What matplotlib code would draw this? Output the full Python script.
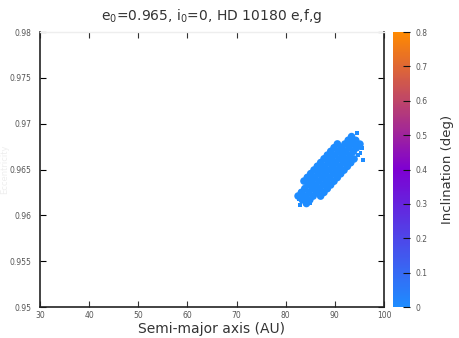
import numpy as np
import matplotlib
matplotlib.use('Agg')
import matplotlib.pyplot as plt
from matplotlib.colors import LinearSegmentedColormap

# --- Data: final semi-major axis / eccentricity of the test particles ---
a_core = [82.52, 83.37, 84.22,
          83.20, 84.05, 84.90,
          83.88, 84.73, 85.58,
          83.72, 84.56, 85.41, 86.26, 87.10,
          84.40, 85.24, 86.09, 86.94, 87.78,
          85.08, 85.92, 86.77, 87.62, 88.46,
          85.76, 86.60, 87.45, 88.30, 89.14,
          86.44, 87.28, 88.13, 88.98, 89.82,
          87.12, 87.96, 88.81, 89.66, 90.50,
          87.80, 88.64, 89.49, 90.34, 91.18,
          88.48, 89.32, 90.17, 91.02, 91.86,
          89.16, 90.00, 90.85, 91.70, 92.54,
          89.84, 90.68, 91.53, 92.38, 93.22,
          90.52, 91.36, 92.21, 93.06, 93.90,
          92.04, 92.89, 93.74,
          92.72, 93.57, 94.42,
          93.40, 94.25, 95.10]
e_core = [0.96211, 0.96170, 0.96129,
          0.96251, 0.96210, 0.96169,
          0.96292, 0.96251, 0.96210,
          0.96374, 0.96333, 0.96292, 0.96251, 0.96210,
          0.96414, 0.96373, 0.96332, 0.96291, 0.96250,
          0.96455, 0.96414, 0.96373, 0.96332, 0.96291,
          0.96495, 0.96454, 0.96413, 0.96372, 0.96331,
          0.96536, 0.96495, 0.96454, 0.96413, 0.96372,
          0.96576, 0.96535, 0.96494, 0.96453, 0.96412,
          0.96617, 0.96576, 0.96535, 0.96494, 0.96453,
          0.96657, 0.96616, 0.96575, 0.96534, 0.96493,
          0.96698, 0.96657, 0.96616, 0.96575, 0.96534,
          0.96738, 0.96697, 0.96656, 0.96615, 0.96574,
          0.96779, 0.96738, 0.96697, 0.96656, 0.96615,
          0.96778, 0.96737, 0.96696,
          0.96819, 0.96778, 0.96737,
          0.96859, 0.96818, 0.96777]
i_core = [0.0] * len(a_core)

# sparse particles around the edge of the cloud
a_edge = [94.51, 95.53, 95.73, 94.71, 82.91, 93.49, 83.93, 94.10, 93.29, 95.12, 84.95, 95.30, 82.60]
e_edge = [0.96898, 0.96735, 0.96604, 0.96658, 0.96113, 0.96822, 0.96200, 0.96767, 0.96844, 0.96789, 0.96134, 0.96680, 0.96175]
i_edge = [0.0] * len(a_edge)

x_ticks = [30, 40, 50, 60, 70, 80, 90, 100]
y_ticks = [0.95, 0.955, 0.96, 0.965, 0.97, 0.975, 0.98]
y_labels = ['0.95', '0.955', '0.96', '0.965', '0.97', '0.975', '0.98']
cb_ticks = [0, 0.1, 0.2, 0.3, 0.4, 0.5, 0.6, 0.7, 0.8]
cb_labels = ['0', '0.1', '0.2', '0.3', '0.4', '0.5', '0.6', '0.7', '0.8']

# blue -> purple -> orange palette
cmap = LinearSegmentedColormap.from_list(
    'incl', [(0.0, '#1E8CFF'), (0.5, '#7E00D2'), (1.0, '#FF8A00')])

fig = plt.figure(figsize=(4.59, 3.38), dpi=100)
ax = fig.add_axes([0.0871, 0.0917, 0.7495, 0.8136])
cax = fig.add_axes([0.856, 0.0917, 0.037, 0.8136])

sc = ax.scatter(a_core, e_core, c=i_core, cmap=cmap, vmin=0, vmax=0.8,
                s=30, marker='o', linewidths=0)
ax.scatter(a_edge, e_edge, c=i_edge, cmap=cmap, vmin=0, vmax=0.8,
           s=5, marker='s', linewidths=0)

ax.set_xlim(30, 100)
ax.set_ylim(0.95, 0.98)
ax.set_xticks(x_ticks)
ax.set_xticklabels([str(v) for v in x_ticks])
ax.set_yticks(y_ticks)
ax.set_yticklabels(y_labels)
ax.tick_params(direction='in', length=4, width=0.8, labelsize=5.5,
               labelcolor='#555555', top=True, right=True)
ax.tick_params(axis='x', top=True, color='#333333', pad=3)
ax.tick_params(axis='y', pad=6)

for side in ['left', 'bottom', 'right']:
    ax.spines[side].set_color('#222222')
    ax.spines[side].set_linewidth(1.2)
ax.spines['top'].set_color('#eeeeee')
ax.spines['top'].set_linewidth(1.0)

ax.set_title(r'e$_0$=0.965, i$_0$=0, HD 10180 e,f,g', fontsize=10,
             color='#333333', pad=9)
ax.set_xlabel('Semi-major axis (AU)', fontsize=10, color='#333333', labelpad=1)
ax.set_ylabel('Eccentricity', fontsize=6, color='#eeeeee')
ax.yaxis.set_label_coords(-0.089, 0.5)

cb = fig.colorbar(sc, cax=cax)
cb.outline.set_visible(False)
cb.set_ticks(cb_ticks)
cb.set_ticklabels(cb_labels)
cb.ax.tick_params(direction='in', length=5, width=0.8, color='#111111',
                  labelsize=5.5, labelcolor='#555555', pad=4)
cb.set_label('Inclination (deg)', fontsize=9.5, color='#333333', labelpad=10)

fig.savefig('out.png', dpi=100)
